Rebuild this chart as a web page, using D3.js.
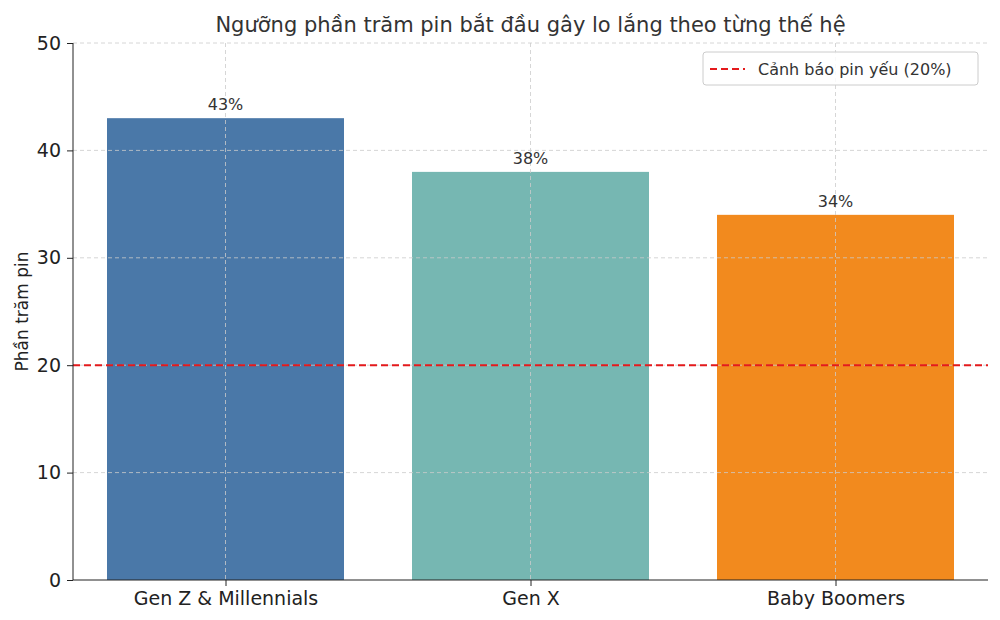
<!DOCTYPE html>
<html><head><meta charset="utf-8">
<script src="https://cdn.jsdelivr.net/npm/d3@7"></script>
<style>body{margin:0;background:#fff}svg{font-family:"DejaVu Sans",sans-serif}</style>
</head><body><svg id="c" width="1000" height="620"></svg>
<script>
const categories = ["Gen Z & Millennials", "Gen X", "Baby Boomers"];
const values = [43, 38, 34];
const colors = ["#4a78a8", "#76b7b2", "#f28a1e"];
const yTicks = [0, 10, 20, 30, 40, 50];
const threshold = 20;
const legendLabel = "Cảnh báo pin yếu (20%)";
const title = "Ngưỡng phần trăm pin bắt đầu gây lo lắng theo từng thế hệ";
const yLabel = "Phần trăm pin";

const svg = d3.select("#c");
const L = 73, R = 988, T = 43, B = 580;
const x = d3.scaleLinear().domain([-0.5, 2.5]).range([L, R]);
const y = d3.scaleLinear().domain([0, 50]).range([B, T]);
const bw = 0.777;

svg.selectAll("rect.bar").data(values).join("rect")
  .attr("x", (d, i) => x(i - bw / 2)).attr("width", x(bw) - x(0))
  .attr("y", d => y(d)).attr("height", d => B - y(d))
  .attr("fill", (d, i) => colors[i]);

const g = svg.append("g").attr("stroke", "#cccccc").attr("stroke-dasharray", "4,3").attr("stroke-width", 0.8);
yTicks.slice(1).forEach(t => g.append("line").attr("x1", L).attr("x2", R).attr("y1", y(t)).attr("y2", y(t)));
categories.forEach((c, i) => g.append("line").attr("x1", x(i)).attr("x2", x(i)).attr("y1", T).attr("y2", B));

svg.append("line").attr("x1", L).attr("x2", R).attr("y1", y(threshold)).attr("y2", y(threshold))
  .attr("stroke", "#e41a1c").attr("stroke-width", 2).attr("stroke-dasharray", "7,4");

svg.selectAll("text.val").data(values).join("text")
  .attr("x", (d, i) => x(i)).attr("y", d => y(d) - 8).attr("text-anchor", "middle")
  .attr("font-size", 16).attr("fill", "#333").text(d => d + "%");

const ya = svg.append("g").attr("transform", `translate(${L},0)`)
  .call(d3.axisLeft(y).tickValues(yTicks).tickSize(6).tickPadding(6));
const xa = svg.append("g").attr("transform", `translate(0,${B})`)
  .call(d3.axisBottom(x).tickValues([0, 1, 2]).tickFormat(i => categories[i]).tickSize(6).tickPadding(6));
[ya, xa].forEach(a => { a.selectAll("text").attr("font-size", 19).attr("fill", "#222").attr("font-family", "DejaVu Sans");
  a.selectAll("line,path").attr("stroke", "#222"); });
ya.select("path").attr("d", `M0,${T}V${B}`);
xa.select("path").attr("d", `M${L},0H${R}`);

svg.append("text").attr("x", (L + R) / 2).attr("y", 32).attr("text-anchor", "middle")
  .attr("font-size", 21).attr("fill", "#333").text(title);
svg.append("text").attr("transform", `translate(28,${(T + B) / 2}) rotate(-90)`).attr("text-anchor", "middle")
  .attr("font-size", 17).attr("fill", "#222").text(yLabel);

const lg = svg.append("g");
lg.append("rect").attr("x", 703).attr("y", 52).attr("width", 275).attr("height", 33).attr("rx", 3)
  .attr("fill", "#fff").attr("fill-opacity", 0.85).attr("stroke", "#ccc");
lg.append("line").attr("x1", 710).attr("x2", 745).attr("y1", 69).attr("y2", 69)
  .attr("stroke", "#e41a1c").attr("stroke-width", 2).attr("stroke-dasharray", "7,4");
lg.append("text").attr("x", 758).attr("y", 75).attr("font-size", 16).attr("fill", "#333").text(legendLabel);
</script></body></html>
